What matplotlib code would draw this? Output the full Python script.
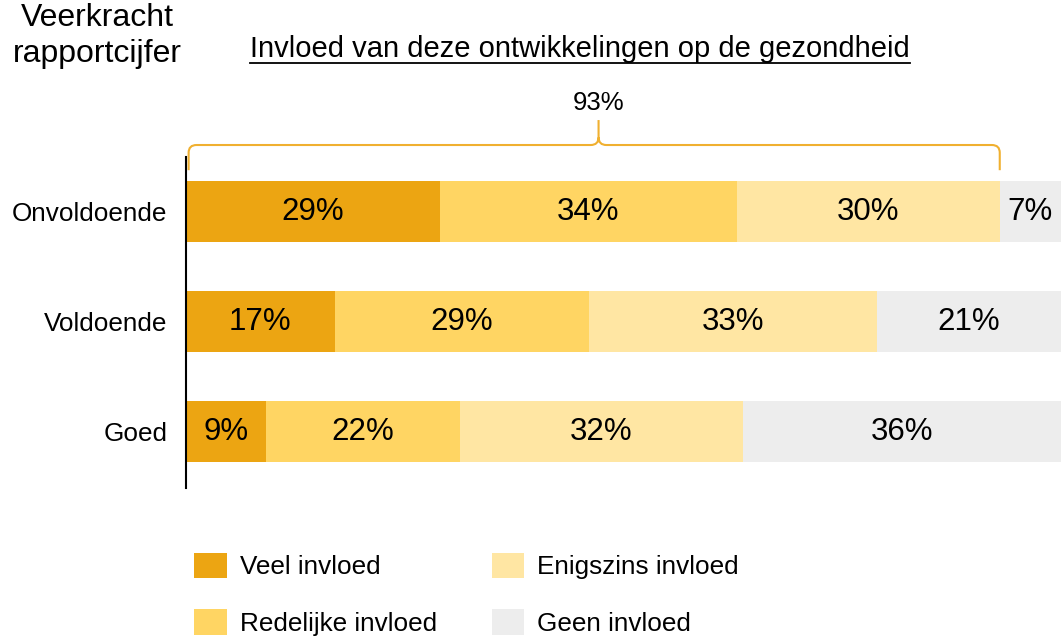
import matplotlib.pyplot as plt
from matplotlib.path import Path
from matplotlib.patches import PathPatch
from matplotlib.lines import Line2D

plt.rcParams['font.family'] = ['Liberation Sans', 'DejaVu Sans']

categories = ["Onvoldoende", "Voldoende", "Goed"]
series_names = ["Veel invloed", "Redelijke invloed", "Enigszins invloed", "Geen invloed"]
veel = [29, 17, 9]
redelijk = [34, 29, 22]
enigszins = [30, 33, 32]
geen = [7, 21, 36]
brace_total = 93
colors = ["#ECA512", "#FFD563", "#FFE6A3", "#EDEDED"]

W, H = 1061, 638
fig = plt.figure(figsize=(W / 100, H / 100), dpi=100)
ax = fig.add_axes([186 / W, 1 - 488 / H, 1 - 186 / W, (488 - 157) / H])

ypos = [2, 1, 0]
series = [veel, redelijk, enigszins, geen]
totals = [sum(s[i] for s in series) for i in range(len(categories))]
left = [0.0] * len(categories)
for name, vals, col in zip(series_names, series, colors):
    widths = [v / t * 100 for v, t in zip(vals, totals)]
    ax.barh(ypos, widths, left=left, height=0.555, color=col, label=name)
    for y, l, w, v in zip(ypos, left, widths, vals):
        ax.text(l + w / 2, y, f"{v}%", ha="center", va="center", fontsize=22.5, color="black")
    left = [l + w for l, w in zip(left, widths)]

ax.set_xlim(0, 100)
ax.set_ylim(-0.51, 2.5)
ax.set_yticks(ypos)
ax.set_yticklabels(categories, fontsize=18.8)
ax.tick_params(axis="y", length=0, pad=13.5)
ax.set_xticks([])
for s in ["top", "right", "bottom"]:
    ax.spines[s].set_visible(False)
ax.spines["left"].set_linewidth(1.5)

# brace over the first three segments
x0, x1 = 0.3, brace_total
xm = (x0 + x1) / 2 + 0.5
yb, yl, yt = 2.38, 2.609, 2.836
dx, dy = 0.9, 0.07
verts = [
    (x0, yb), (x0, yl - dy), (x0, yl), (x0 + dx, yl),
    (xm - dx, yl), (xm, yl), (xm, yl + dy), (xm, yt),
    (xm, yl + dy), (xm, yl), (xm + dx, yl),
    (x1 - dx, yl), (x1, yl), (x1, yl - dy), (x1, yb),
]
codes = [
    Path.MOVETO, Path.LINETO, Path.CURVE3, Path.CURVE3,
    Path.LINETO, Path.CURVE3, Path.CURVE3, Path.LINETO,
    Path.MOVETO, Path.CURVE3, Path.CURVE3,
    Path.LINETO, Path.CURVE3, Path.CURVE3, Path.LINETO,
]
ax.add_patch(PathPatch(Path(verts, codes), fill=False, edgecolor="#F0B030",
                       linewidth=1.5, clip_on=False))
fig.text((186 + xm * 8.75) / W, 1 - 103 / H, f"{brace_total}%", ha="center", va="center",
         fontsize=18.5)

# titles
fig.text(97 / W, 1 - 36 / H, "Veerkracht\nrapportcijfer", ha="center", va="center",
         fontsize=23, linespacing=1.3)
title = fig.text(580 / W, 1 - 49 / H, "Invloed van deze ontwikkelingen op de gezondheid",
                 ha="center", va="center", fontsize=21)
fig.canvas.draw()
bb = title.get_window_extent(fig.canvas.get_renderer()).transformed(fig.transFigure.inverted())
fig.add_artist(Line2D([bb.x0, bb.x1], [1 - 63 / H, 1 - 63 / H], transform=fig.transFigure,
                      color="black", linewidth=1.3))

handles, labels = ax.get_legend_handles_labels()
fig.legend(handles, labels, ncol=2, loc="upper left",
           bbox_to_anchor=(194 / W, 1 - 553 / H), frameon=False, fontsize=18.8,
           handlelength=1.25, handleheight=1.1, handletextpad=0.5,
           labelspacing=1.15, columnspacing=2.1, borderpad=0, borderaxespad=0)

fig.savefig("out.png", dpi=100)
